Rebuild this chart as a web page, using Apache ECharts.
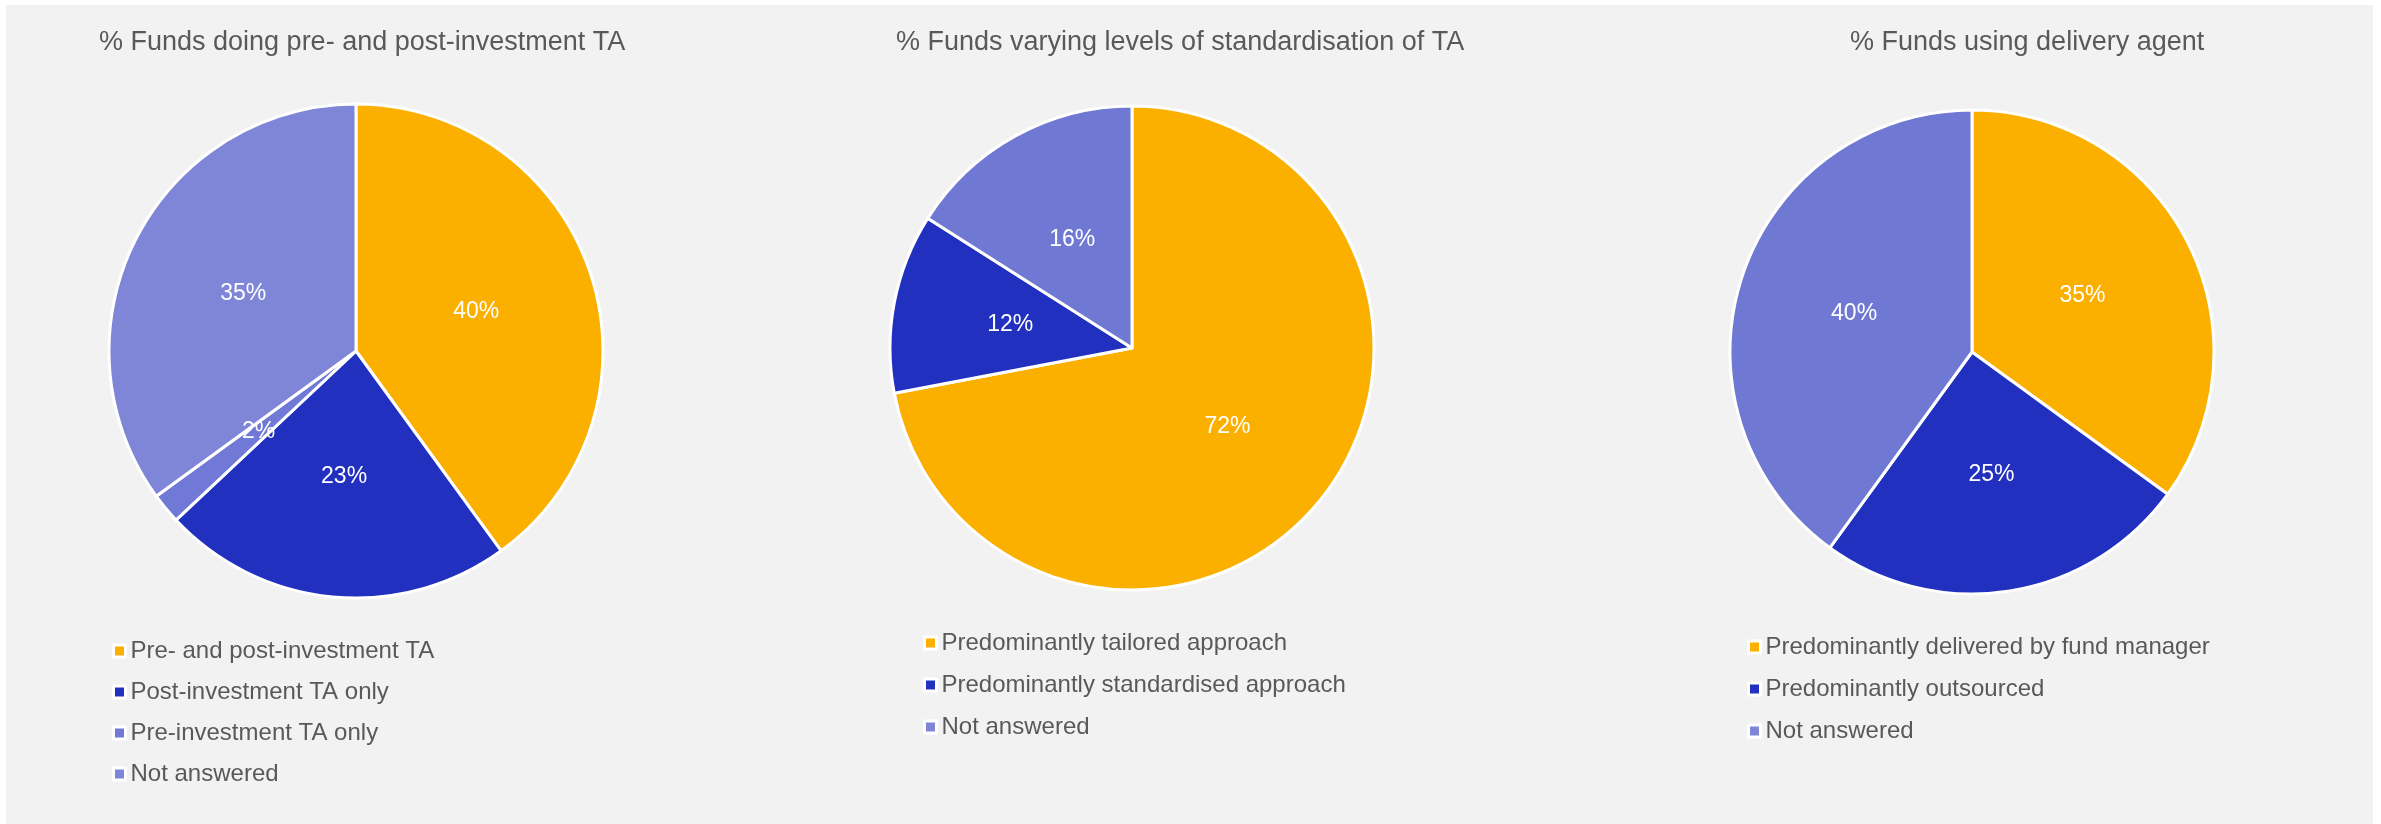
<!DOCTYPE html>
<html style="height: 100%">
<head>
    <meta charset="utf-8">
    <script src="https://cdn.jsdelivr.net/npm/echarts@6/dist/echarts.min.js"></script>
</head>
<body style="height: 100%; margin: 0; background: #fff">
<div id="container" style="width: 2381px; height: 824px"></div>

<script type="text/javascript">
    // chart data
    var taTitle = '% Funds doing pre- and post-investment TA';
    var taNames = ['Pre- and post-investment TA', 'Post-investment TA only', 'Pre-investment TA only', 'Not answered'];
    var taValues = [40, 23, 2, 35];

    var stdTitle = '% Funds varying levels of standardisation of TA';
    var stdNames = ['Predominantly tailored approach', 'Predominantly standardised approach', 'Not answered'];
    var stdValues = [72, 12, 16];

    var agentTitle = '% Funds using delivery agent';
    var agentNames = ['Predominantly delivered by fund manager', 'Predominantly outsourced', 'Not answered'];
    var agentValues = [35, 25, 40];

    var font = "'Liberation Sans', Arial, sans-serif";
    var textColor = '#595959';

    function toData(names, values, colors) {
        return names.map(function (n, i) {
            return { name: n, value: values[i], itemStyle: { color: colors[i] } };
        });
    }

    function pieSeries(name, center, radius, data) {
        return {
            name: name,
            type: 'pie',
            center: center,
            radius: radius,
            startAngle: 90,
            clockwise: true,
            avoidLabelOverlap: false,
            data: data,
            itemStyle: { borderColor: '#fff', borderWidth: 3 },
            label: {
                show: true,
                position: 'inside',
                formatter: '{c}%',
                color: '#fff',
                fontSize: 23,
                fontFamily: font
            },
            labelLine: { show: false },
            emphasis: { disabled: true }
        };
    }

    function legendFor(names, left, top, gap) {
        return {
            data: names,
            orient: 'vertical',
            left: left,
            top: top,
            icon: 'rect',
            itemWidth: 12,
            itemHeight: 12,
            itemGap: gap,
            padding: 0,
            selectedMode: false,
            itemStyle: { borderColor: '#fff', borderWidth: 3 },
            textStyle: { color: textColor, fontSize: 24, lineHeight: 24, fontFamily: font }
        };
    }

    function titleFor(text, left) {
        return {
            text: text,
            left: left,
            top: 29,
            padding: 0,
            textStyle: { color: textColor, fontSize: 27, fontWeight: 'normal', fontFamily: font }
        };
    }

    var dom = document.getElementById('container');
    var myChart = echarts.init(dom, null, { renderer: 'canvas' });

    var option = {
        animation: false,
        backgroundColor: '#fff',
        graphic: [{
            type: 'rect',
            z: -10,
            shape: { x: 6, y: 5, width: 2367, height: 819 },
            style: { fill: '#f2f2f2' }
        }],
        title: [
            titleFor(taTitle, 99),
            titleFor(stdTitle, 896),
            titleFor(agentTitle, 1850)
        ],
        legend: [
            legendFor(taNames, 112, 639, 17),
            legendFor(stdNames, 923, 631, 18),
            legendFor(agentNames, 1747, 635, 18)
        ],
        series: [
            pieSeries('ta', [356, 351], 247,
                toData(taNames, taValues, ['#FBB000', '#2130BF', '#7079D5', '#7F86D8'])),
            pieSeries('std', [1132, 348], 242,
                toData(stdNames, stdValues, ['#FBB000', '#2130BF', '#6F79D3'])),
            pieSeries('agent', [1972, 352], 242,
                toData(agentNames, agentValues, ['#FBB000', '#2130BF', '#6F79D3']))
        ]
    };
    myChart.setOption(option);
</script>
</body>
</html>
